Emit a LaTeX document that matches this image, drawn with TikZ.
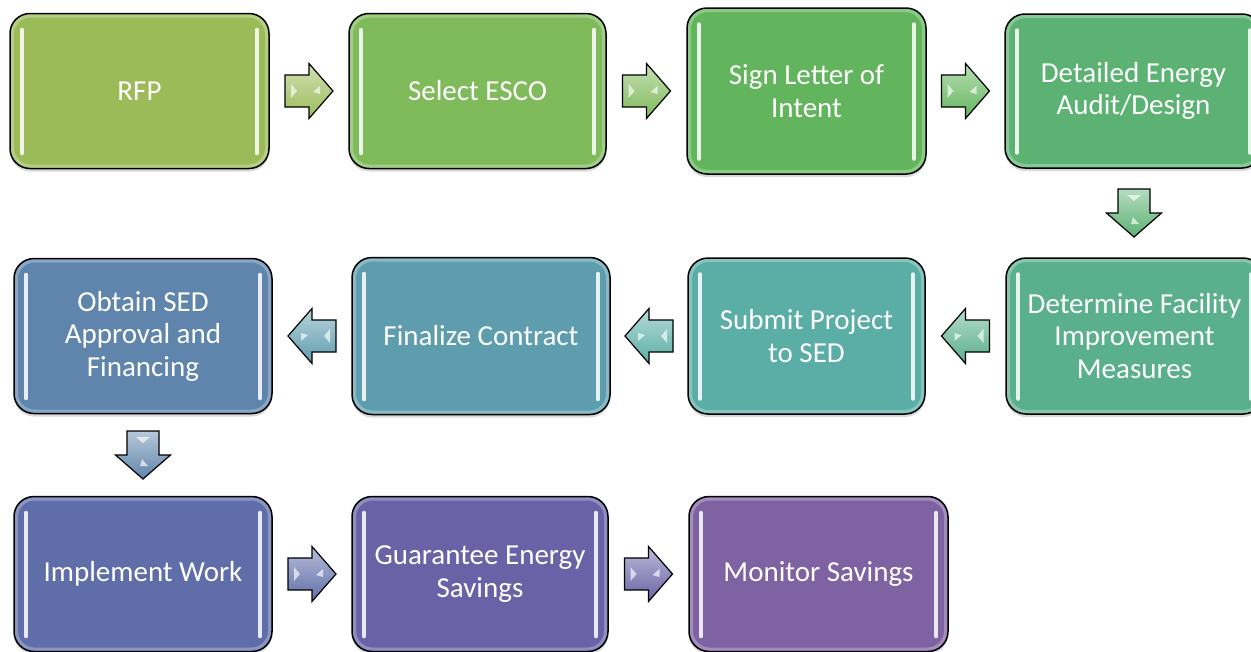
\documentclass[tikz,border=0pt]{standalone}
\usepackage{fontspec}
\setmainfont{Carlito}
\usepackage{xcolor}
\usetikzlibrary{calc}
\usetikzlibrary{shadows}

\definecolor{boxRFP}{HTML}{9BBB59}
\definecolor{boxESCO}{HTML}{7FBA5B}
\definecolor{boxLOI}{HTML}{62B55C}
\definecolor{boxAudit}{HTML}{5BB273}
\definecolor{boxFIM}{HTML}{5AAF8D}
\definecolor{boxSubmit}{HTML}{5BAEA6}
\definecolor{boxFinal}{HTML}{5E9DAD}
\definecolor{boxObtain}{HTML}{5F85AC}
\definecolor{boxImpl}{HTML}{5F6EA9}
\definecolor{boxGuar}{HTML}{6A62A6}
\definecolor{boxMon}{HTML}{7F62A2}

\tikzset{
  stage/.style={draw=black, line width=1.5pt, rounded corners=20pt, outer sep=0pt,
    text=white, align=center, font=\fontsize{29}{32.5}\selectfont,
    drop shadow={shadow xshift=0pt, shadow yshift=-3pt, opacity=.3}},
}

% block arrow: centre, angle, fill colour
\newcommand{\flowarrow}[3]{%
  \begin{scope}[shift={(#1)}, rotate=#2]
    \draw[line width=1.2pt, line join=miter, top color=#3!45!white, bottom color=#3]
      (-24,-16) -- (0,-16) -- (0,-27.5) -- (24,0) -- (0,27.5) -- (0,16) -- (-24,16) -- cycle;
    \fill[white, opacity=.65] (-18,-7) -- (-12,0) -- (-18,7) -- cycle;
    \fill[white, opacity=.65] (11,-5) -- (4,1) -- (11,3) -- cycle;
  \end{scope}}

\begin{document}
\begin{tikzpicture}[x=1pt, y=-1pt]
  \clip (0,0) rectangle (1251,651);

  % row 1
  \node[stage, fill=boxRFP, minimum width=259, minimum height=155] (rfp) at (139.5,91) {RFP};
  \node[stage, fill=boxESCO, minimum width=257, minimum height=155] (esco) at (477.5,91) {Select ESCO};
  \node[stage, fill=boxLOI, minimum width=239, minimum height=166] (loi) at (806.5,91) {Sign Letter of\\Intent};
  \node[stage, fill=boxAudit, minimum width=257, minimum height=154] (audit) at (1133.5,91) {Detailed Energy\\Audit/Design};

  % row 2
  \node[stage, fill=boxFIM, minimum width=257, minimum height=156] (fim) at (1134.5,336) {Determine Facility\\Improvement\\Measures};
  \node[stage, fill=boxSubmit, minimum width=237, minimum height=156] (submit) at (806.5,336) {Submit Project\\to SED};
  \node[stage, fill=boxFinal, minimum width=258, minimum height=157] (final) at (481,336) {Finalize Contract};
  \node[stage, fill=boxObtain, minimum width=258, minimum height=155] (obtain) at (143,336) {Obtain SED\\Approval and\\Financing};

  % row 3
  \node[stage, fill=boxImpl, minimum width=258, minimum height=155] (impl) at (143,574) {Implement Work};
  \node[stage, fill=boxGuar, minimum width=256, minimum height=155] (guar) at (480,574) {Guarantee Energy\\Savings};
  \node[stage, fill=boxMon, minimum width=259, minimum height=155] (mon) at (818.5,574) {Monitor Savings};

  % glossy rim and side bars
  \foreach \n/\c in {rfp/boxRFP, esco/boxESCO, loi/boxLOI, audit/boxAudit, fim/boxFIM,
      submit/boxSubmit, final/boxFinal, obtain/boxObtain, impl/boxImpl, guar/boxGuar, mon/boxMon} {
    \draw[\c!45!white, line width=3pt, rounded corners=18pt, opacity=.5]
      ($(\n.north west)+(2.5,2.5)$) rectangle ($(\n.south east)+(-2.5,-2.5)$);
    \draw[\c!15!white, line width=3.5pt, line cap=round]
      ($(\n.north west)+(12,16)$) -- ($(\n.south west)+(12,-15)$);
    \draw[\c!15!white, line width=3.5pt, line cap=round]
      ($(\n.north east)+(-12,16)$) -- ($(\n.south east)+(-12,-15)$);
  }

  % arrows between the stages
  \coordinate (a1) at ($(rfp.east)!.5!(esco.west)$);
  \coordinate (a2) at ($(esco.east)!.5!(loi.west)$);
  \coordinate (a3) at ($(loi.east)!.5!(audit.west)$);
  \coordinate (a4) at ($(audit.south)!.5!(fim.north)$);
  \coordinate (a5) at ($(fim.west)!.5!(submit.east)$);
  \coordinate (a6) at ($(submit.west)!.5!(final.east)$);
  \coordinate (a7) at ($(final.west)!.5!(obtain.east)$);
  \coordinate (a8) at ($(obtain.south)!.5!(impl.north)$);
  \coordinate (a9) at ($(impl.east)!.5!(guar.west)$);
  \coordinate (a10) at ($(guar.east)!.5!(mon.west)$);

  \flowarrow{a1}{0}{boxRFP}
  \flowarrow{a2}{0}{boxESCO}
  \flowarrow{a3}{0}{boxLOI}
  \flowarrow{a4}{-90}{boxAudit}
  \flowarrow{a5}{180}{boxFIM}
  \flowarrow{a6}{180}{boxSubmit}
  \flowarrow{a7}{180}{boxFinal}
  \flowarrow{a8}{-90}{boxObtain}
  \flowarrow{a9}{0}{boxImpl}
  \flowarrow{a10}{0}{boxGuar}
\end{tikzpicture}
\end{document}
